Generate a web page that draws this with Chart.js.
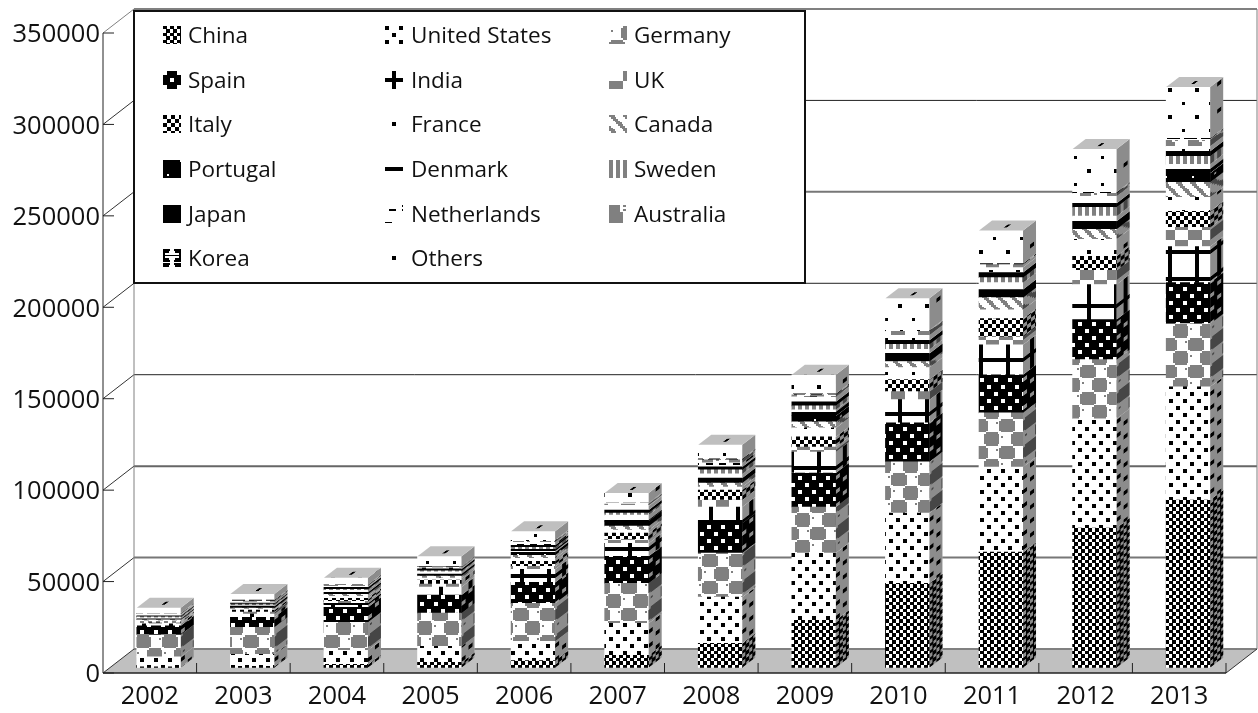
<!DOCTYPE html>
<html>
<head>
<meta charset="utf-8">
<title>Stacked columns by country</title>
<style>
html, body { margin: 0; padding: 0; background: #fff; }
canvas { display: block; }
</style>
<script src="https://cdn.jsdelivr.net/npm/chart.js@4"></script>
</head>
<body>
<canvas id="chart" width="1258" height="713"></canvas>
<script>
const years = ['2002', '2003', '2004', '2005', '2006', '2007', '2008', '2009', '2010', '2011', '2012', '2013'];
const yTicks = [0, 50000, 100000, 150000, 200000, 250000, 300000, 350000];

const china = [270, 550, 1650, 2750, 3800, 6600, 13200, 25800, 46000, 63000, 76200, 91500];
const unitedStates = [5500, 6600, 7700, 8800, 10400, 17500, 25200, 36700, 38400, 46600, 59800, 62000];
const germany = [12100, 14800, 15300, 18100, 20800, 21900, 24100, 25200, 28000, 29600, 32300, 34500];
const spain = [4900, 5500, 8200, 9900, 11500, 14800, 16400, 18600, 21400, 20800, 21900, 22500];
const india = [1100, 1650, 2200, 4400, 7100, 7100, 8800, 11500, 12600, 16400, 19200, 19700];
const uk = [550, 1100, 1100, 1650, 1650, 2200, 3800, 2750, 4400, 4400, 7700, 10400];
const italy = [550, 1100, 1650, 2200, 2750, 3300, 5500, 5500, 6600, 9900, 7700, 8800];
const france = [550, 550, 1100, 1100, 1650, 1650, 1650, 4900, 6600, 4900, 9300, 7700];
const canada = [550, 550, 1100, 1100, 1650, 2200, 2200, 3300, 3300, 6600, 5500, 8200];
const portugal = [550, 1100, 1100, 1100, 1650, 2750, 2750, 3300, 4400, 4400, 4400, 4900];
const denmark = [550, 550, 1100, 1100, 1650, 3300, 2200, 3300, 2200, 3800, 2750, 4900];
const sweden = [550, 550, 550, 550, 1100, 1100, 2200, 2200, 2750, 2750, 4900, 4400];
const japan = [550, 550, 1100, 1100, 1100, 1650, 1650, 2200, 2200, 2750, 2200, 2750];
const netherlands = [550, 550, 550, 550, 1650, 2200, 2200, 2750, 2750, 2750, 3800, 2750];
const australia = [550, 550, 550, 550, 550, 1100, 1650, 1100, 2200, 1650, 1650, 3300];
const korea = [270, 550, 270, 270, 550, 550, 550, 550, 550, 550, 550, 1100];
const others = [3000, 3300, 3800, 5500, 4900, 5500, 7700, 10400, 17500, 18100, 23600, 28000];

const seriesNames = ['China', 'United States', 'Germany', 'Spain', 'India', 'UK', 'Italy', 'France', 'Canada',
	'Portugal', 'Denmark', 'Sweden', 'Japan', 'Netherlands', 'Australia', 'Korea', 'Others'];
const seriesValues = [china, unitedStates, germany, spain, india, uk, italy, france, canada,
	portugal, denmark, sweden, japan, netherlands, australia, korea, others];

// bitmaps for the hatch fills: # black, g gray, . white
const CELL = 27 / 16;
const blank = '................';
const sparseDots = [blank, blank, blank, blank, '....##..........', '....##..........', blank, blank,
	blank, blank, blank, blank, '............##..', '............##..', blank, blank];
const sparseHoles = Array(16).fill('#'.repeat(16)).map((r, i) =>
	i === 0 ? '##########.#####' : i === 8 ? '##.#############' : r);
const crossLines = Array(16).fill('....##..........').map((r, i) => (i === 4 || i === 5 ? '#'.repeat(16) : r));
const levelLines = Array(16).fill(blank).map((r, i) => (i === 4 || i === 5 ? '#'.repeat(16) : r));

const bitmaps = {
	'China': { size: 1, rows: ['####...', '####...', '####...', '...####', '...####', '...####', '...####'] },
	'United States': { size: CELL, rows: ['##......', '##......', '........', '........', '....##..', '....##..', '........', '........'] },
	'Germany': { size: CELL, rows: [
		'........ggggggg.', '.......ggggggggg', '.g.....ggggggggg', '.......ggggggggg',
		'.......ggggggggg', '.......ggggggggg', '.......ggggggggg', '........ggggggg.',
		'.ggggggg........', 'ggggggggg.......', 'ggggggggg.....g.', 'ggggggggg.......',
		'ggggggggg.......', 'ggggggggg.......', 'ggggggggg.......', '.ggggggg........'] },
	'Spain': { size: CELL, rows: ['..######', '..######', '########', '########', '####..##', '####..##', '########', '########'] },
	'India': { size: CELL, rows: crossLines },
	'UK': { size: CELL, rows: [
		'........gggggggg', '........gggggggg', '........gggggggg', '........gggggggg', '........gggggggg', '........gggggggg',
		'gggggggg........', 'gggggggg........', 'gggggggg........', 'gggggggg........', 'gggggggg........', 'gggggggg........'] },
	'Italy': { size: 2, rows: ['##..', '##..', '..##', '..##'] },
	'France': { size: CELL, rows: sparseDots },
	'Canada': { size: CELL, rows: ['ggg.....', '.ggg....', '..ggg...', '...ggg..', '....ggg.', '.....ggg', 'g.....gg', 'gg.....g'] },
	'Portugal': { size: CELL, rows: sparseHoles },
	'Denmark': { size: CELL, rows: levelLines },
	'Sweden': { size: CELL, rows: ['gg..'] },
	'Japan': { size: CELL, rows: ['#'] },
	'Netherlands': { size: CELL, rows: [
		'..........##....', blank, '..####....####..', blank, blank, blank, blank, blank,
		'............##..', blank, '####........####', blank, blank, blank, blank, blank] },
	'Australia': { size: CELL, rows: [
		'gggggg..gg......', 'gggggg..........', 'gggggg..gg......', 'gggggg..........',
		'gggggggg........', 'gggggggg........', 'gggggggg........', 'gggggggg........',
		'gggggggg........', 'gggggggg........', 'gggggggg........', blank,
		'........gggggggg', '........gggggggg', '........gggggggg', '........gggggggg'] },
	'Korea': { size: CELL, rows: ['####..####', '###....###', '#........#', '##########', '#........#', '###....###', '####..####', '..........'] },
	'Others': { size: CELL, rows: sparseDots }
};

function makePattern(ctx, bitmap) {
	const rows = bitmap.rows;
	const cols = rows[0].length;
	const tile = document.createElement('canvas');
	tile.width = Math.round(cols * bitmap.size);
	tile.height = Math.round(rows.length * bitmap.size);
	const t = tile.getContext('2d');
	const colours = { '#': '#000', 'g': '#808080', '.': '#fff' };
	for (let y = 0; y < tile.height; y++) {
		for (let x = 0; x < tile.width; x++) {
			t.fillStyle = colours[rows[Math.floor(y / tile.height * rows.length)][Math.floor(x / tile.width * cols)]];
			t.fillRect(x, y, 1, 1);
		}
	}
	return ctx.createPattern(tile, 'repeat');
}

const ctx = document.getElementById('chart').getContext('2d');
const patterns = seriesNames.map(name => makePattern(ctx, bitmaps[name]));

const FONT = '"Open Sans", sans-serif';
const WALL_DX = 31;
const WALL_DY = 24;
const BAR_DX = 13;
const BAR_DY = 10;
// columns stand a little inside the floor, so their scales are nudged from the visible axes
const BAR_VALUE_OFFSET = 3060;
const BAR_INDEX_OFFSET = 0.096;

// back wall grid: dark hairlines and wider gray ones alternate
const gridStyle = {
	0: ['#808080', 2], 50000: ['#777', 2], 100000: ['#666', 2], 150000: ['#222', 1],
	200000: ['#222', 1], 250000: ['#777', 2], 300000: ['#222', 1], 350000: ['#808080', 2]
};

const box3d = {
	id: 'box3d',
	beforeDatasetsDraw(chart) {
		const c = chart.ctx;
		const area = chart.chartArea;
		const yScale = chart.scales.y;
		const bottom = yScale.getPixelForValue(0);
		const line = (x0, y0, x1, y1, colour, width) => {
			c.strokeStyle = colour;
			c.lineWidth = width;
			c.beginPath();
			c.moveTo(x0, y0);
			c.lineTo(x1, y1);
			c.stroke();
		};
		c.save();
		c.fillStyle = '#c0c0c0';
		c.beginPath();
		c.moveTo(area.left, bottom);
		c.lineTo(area.left + WALL_DX, bottom - WALL_DY);
		c.lineTo(area.right + WALL_DX, bottom - WALL_DY);
		c.lineTo(area.right, bottom);
		c.closePath();
		c.fill();
		yTicks.forEach(v => {
			const py = yScale.getPixelForValue(v);
			const style = gridStyle[v];
			line(area.left, py, area.left + WALL_DX, py - WALL_DY, v === 350000 ? '#808080' : '#333', 1);
			line(area.left, py, area.left + 11, py, '#222', 1);
			line(area.left + WALL_DX, py - WALL_DY, area.right + WALL_DX, py - WALL_DY, style[0], style[1]);
		});
		line(area.left + WALL_DX, yScale.getPixelForValue(350000) - WALL_DY, area.left + WALL_DX, bottom - WALL_DY, '#808080', 1);
		line(area.right + WALL_DX, yScale.getPixelForValue(350000) - WALL_DY, area.right + WALL_DX, bottom - WALL_DY, '#808080', 1);
		line(area.right, bottom, area.right + WALL_DX, bottom - WALL_DY, '#333', 1);
		line(area.left, yScale.getPixelForValue(350000), area.left, bottom, '#222', 1);
		line(area.left, bottom, area.right, bottom, '#222', 1.5);
		for (let k = 1; k <= years.length; k++) {
			const px = area.left + k * area.width / years.length;
			line(px, bottom, px, bottom - 10, '#222', 1);
		}
		c.restore();
	},
	afterDatasetsDraw(chart) {
		const c = chart.ctx;
		seriesNames.forEach((name, s) => {
			chart.getDatasetMeta(s).data.forEach(bar => {
				const left = bar.x - bar.width / 2;
				const right = bar.x + bar.width / 2;
				c.save();
				c.transform(1, -BAR_DY / BAR_DX, 0, 1, right, 0);
				c.fillStyle = patterns[s];
				c.fillRect(0, bar.y, BAR_DX, bar.base - bar.y);
				c.fillStyle = 'rgba(0,0,0,0.45)';
				c.fillRect(0, bar.y, BAR_DX, bar.base - bar.y);
				c.restore();
				if (s === seriesNames.length - 1) {
					c.save();
					c.transform(1, 0, -BAR_DX / BAR_DY, 1, left, bar.y);
					c.fillStyle = patterns[s];
					c.fillRect(0, -BAR_DY, bar.width, BAR_DY);
					c.fillStyle = 'rgba(0,0,0,0.25)';
					c.fillRect(0, -BAR_DY, bar.width, BAR_DY);
					c.restore();
				}
			});
		});
	},
	afterDraw(chart) {
		const c = chart.ctx;
		c.save();
		c.fillStyle = '#fff';
		c.fillRect(134, 11, 671, 272);
		c.strokeStyle = '#111';
		c.lineWidth = 2;
		c.strokeRect(134, 11, 671, 272);
		c.font = '22.5px ' + FONT;
		c.textBaseline = 'middle';
		const swatchX = [163, 385, 609];
		const textX = [188, 411, 634];
		const rowY = [35, 80, 124, 169, 214, 258];
		seriesNames.forEach((name, s) => {
			const col = s % 3;
			const y = rowY[Math.floor(s / 3)];
			c.save();
			c.translate(swatchX[col], y - 9);
			c.fillStyle = patterns[s];
			c.fillRect(0, 0, 18, 18);
			c.restore();
			c.fillStyle = '#111';
			c.fillText(name, textX[col], y + 2);
		});
		c.restore();
	}
};

new Chart(ctx, {
	type: 'bar',
	data: {
		labels: years,
		datasets: seriesNames.map((name, s) => ({
			label: name,
			data: seriesValues[s].map((v, i) => ({ x: i, y: v })),
			backgroundColor: patterns[s],
			borderWidth: 0,
			barThickness: 44,
			xAxisID: 'x2',
			yAxisID: 'y2'
		}))
	},
	options: {
		responsive: false,
		animation: false,
		events: [],
		layout: { padding: { left: 0, top: 33, right: 32, bottom: 0 } },
		plugins: { legend: { display: false }, tooltip: { enabled: false } },
		scales: {
			x: {
				type: 'category',
				offset: true,
				grid: { display: false, drawTicks: false },
				border: { display: false },
				ticks: { color: '#111', font: { family: FONT, size: 25.5 }, padding: 8, maxRotation: 0 },
				afterFit(scale) { scale.height = 40; }
			},
			y: {
				type: 'linear',
				min: 0,
				max: 350000,
				grid: { display: false, drawTicks: false },
				border: { display: false },
				ticks: { stepSize: 50000, color: '#111', font: { family: FONT, size: 25.5 }, padding: 3, labelOffset: 2, callback: v => String(v) },
				afterFit(scale) { scale.width = 103; }
			},
			x2: { type: 'linear', display: false, offset: false, stacked: true, min: -0.5 - BAR_INDEX_OFFSET, max: years.length - 0.5 - BAR_INDEX_OFFSET },
			y2: { type: 'linear', display: false, stacked: true, min: -BAR_VALUE_OFFSET, max: 350000 - BAR_VALUE_OFFSET }
		}
	},
	plugins: [box3d]
});
</script>
</body>
</html>
